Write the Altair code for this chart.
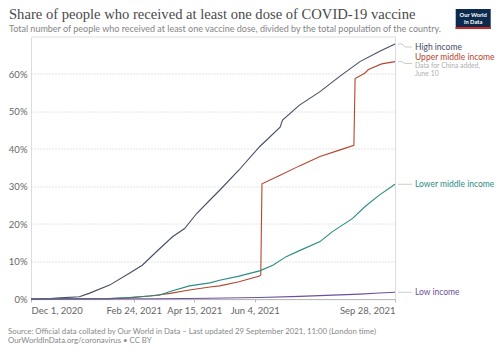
import altair as alt
import pandas as pd

# ---------------- data ----------------
high_dates = ["2020-12-01", "2020-12-17", "2020-12-25", "2021-01-10", "2021-01-18", "2021-02-04",
              "2021-02-20", "2021-03-03", "2021-03-16", "2021-03-28", "2021-04-07", "2021-04-17",
              "2021-04-28", "2021-05-06", "2021-05-22", "2021-06-08", "2021-06-25", "2021-06-27",
              "2021-07-11", "2021-07-28", "2021-08-13", "2021-08-30", "2021-09-15", "2021-09-28"]
high_vals = [0.0, 0.1, 0.3, 0.6, 1.5, 3.7, 6.8, 9.0, 13.0, 16.6, 18.8, 22.8,
             26.4, 29.0, 34.4, 40.6, 45.8, 47.7, 51.7, 55.3, 59.3, 63.3, 66.0, 68.0]

upper_dates = ["2020-12-01", "2021-01-18", "2021-02-04", "2021-02-20", "2021-03-09", "2021-03-26",
               "2021-04-11", "2021-04-28", "2021-05-06", "2021-05-22", "2021-06-08", "2021-06-09",
               "2021-06-10", "2021-06-25", "2021-07-11", "2021-07-28", "2021-08-13", "2021-08-25",
               "2021-08-26", "2021-09-03", "2021-09-06", "2021-09-17", "2021-09-28"]
upper_vals = [0.0, 0.05, 0.1, 0.3, 0.8, 1.5, 2.4, 3.2, 3.5, 4.6, 6.1, 6.4,
              30.7, 33.0, 35.5, 38.0, 39.7, 41.0, 58.8, 60.2, 61.2, 62.7, 63.3]

lower_dates = ["2020-12-01", "2021-02-04", "2021-02-20", "2021-03-17", "2021-03-26", "2021-04-11",
               "2021-04-28", "2021-05-06", "2021-05-22", "2021-06-08", "2021-06-19", "2021-06-30",
               "2021-07-11", "2021-07-28", "2021-08-07", "2021-08-24", "2021-09-03", "2021-09-15",
               "2021-09-28"]
lower_vals = [0.0, 0.1, 0.4, 1.0, 2.0, 3.5, 4.3, 5.0, 6.1, 7.5, 9.0, 11.3,
              12.9, 15.3, 17.9, 21.5, 24.6, 27.7, 30.6]

low_dates = ["2020-12-01", "2021-03-16", "2021-04-28", "2021-06-08", "2021-07-11", "2021-08-13",
             "2021-08-30", "2021-09-15", "2021-09-28"]
low_vals = [0.0, 0.05, 0.2, 0.4, 0.7, 1.1, 1.3, 1.6, 1.8]

series_names = ["High income", "Upper middle income", "Lower middle income", "Low income"]
series_colors = ["#474d66", "#b5462f", "#2a8c82", "#6b4e9c"]
label_pos = [67.3, 64.5, 30.7, 1.9]          # where each label sits (%)
connect_pos = [67.2, 62.8, 30.6, 1.8]         # where each connector meets its label (%)

tick_dates = ["2020-12-01", "2021-02-24", "2021-04-15", "2021-06-04", "2021-09-28"]
y_ticks = [0, 10, 20, 30, 40, 50, 60]

title_text = "Share of people who received at least one dose of COVID-19 vaccine"
subtitle_text = "Total number of people who received at least one vaccine dose, divided by the total population of the country."
footer1 = "Source: Official data collated by Our World in Data – Last updated 29 September 2021, 11:00 (London time)"
footer2 = "OurWorldInData.org/coronavirus • CC BY"
note_lines = ["Data for China added,", "June 10"]
note_pos = [62.2, 60.0]

# ---------------- tables ----------------
rows = []
for name, ds, vs in [(series_names[0], high_dates, high_vals),
                     (series_names[1], upper_dates, upper_vals),
                     (series_names[2], lower_dates, lower_vals),
                     (series_names[3], low_dates, low_vals)]:
    for d, v in zip(ds, vs):
        rows.append({"date": d, "value": v / 100.0, "series": name})
df = pd.DataFrame(rows)

ends = [high_vals[-1], upper_vals[-1], lower_vals[-1], low_vals[-1]]
lab = pd.DataFrame({
    "series": series_names,
    "end": [e / 100.0 for e in ends],
    "conn": [c / 100.0 for c in connect_pos],
    "lab": [p / 100.0 for p in label_pos],
})
notes = pd.DataFrame({"text": note_lines, "pos": [p / 100.0 for p in note_pos]})

W, H = 364, 262.5
FONT = "Lato"

color = alt.Color("series:N", scale=alt.Scale(domain=series_names, range=series_colors), legend=None)
x_scale = alt.Scale(type="utc", domain=[alt.DateTime(year=2020, month=12, date=1, utc=True),
                                        alt.DateTime(year=2021, month=9, date=28, utc=True)])
y_scale = alt.Scale(domain=[0, 0.7], nice=False)

tick_vals = []
for t in tick_dates:
    y, m, d = [int(s) for s in t.split("-")]
    tick_vals.append(alt.DateTime(year=y, month=m, date=d, utc=True))

lines = alt.Chart(df).mark_line(strokeWidth=1.1).encode(
    x=alt.X("date:T", scale=x_scale, title=None,
            axis=alt.Axis(values=tick_vals, labelExpr="utcFormat(datum.value, '%b %-d, %Y')", grid=False,
                          labelFlush=True, domainColor="#bbbbbb", tickColor="#bbbbbb", tickSize=3,
                          labelPadding=3, labelFont=FONT, labelFontSize=9.5, labelColor="#666666")),
    y=alt.Y("value:Q", scale=y_scale, title=None,
            axis=alt.Axis(values=[v / 100 for v in y_ticks], format=".0%", domain=False, ticks=False,
                          gridDash=[1, 2], gridColor="#cccccc", labelPadding=4, labelFont=FONT,
                          labelFontSize=9.5, labelColor="#666666")),
    color=color,
    detail="series:N",
)

seg1 = alt.Chart(lab).mark_rule(color="#cccccc", strokeWidth=1).encode(
    x=alt.value(367), x2=alt.value(371), y=alt.Y("end:Q", scale=y_scale))
seg2 = alt.Chart(lab).mark_rule(color="#cccccc", strokeWidth=1).encode(
    x=alt.value(371), x2=alt.value(374), y=alt.Y("end:Q", scale=y_scale), y2="conn:Q")
seg3 = alt.Chart(lab).mark_rule(color="#cccccc", strokeWidth=1).encode(
    x=alt.value(374), x2=alt.value(381), y=alt.Y("conn:Q", scale=y_scale))

labels = alt.Chart(lab).mark_text(align="left", baseline="middle", font=FONT, fontSize=8.5).encode(
    x=alt.value(384), y=alt.Y("lab:Q", scale=y_scale), text="series:N", color=color)

note = alt.Chart(notes).mark_text(align="left", baseline="middle", font=FONT, fontSize=6.8,
                                  color="#b0b0b0").encode(
    x=alt.value(384), y=alt.Y("pos:Q", scale=y_scale), text="text:N")

def txt(s, x, y, size, color, font=FONT, weight="normal", align="left"):
    return alt.Chart(pd.DataFrame({"t": [s]})).mark_text(
        align=align, baseline="middle", font=font, fontSize=size, color=color, fontWeight=weight
    ).encode(x=alt.value(x), y=alt.value(y), text="t:N")

title = txt(title_text, -22, -21.5, 14.6, "#4a4a4a", font="Liberation Serif")
subtitle = txt(subtitle_text, -22, -7.5, 9, "#858585")
foot1 = txt(footer1, -23, 295.2, 7.8, "#888888")
foot2 = txt(footer2, -23, 304.2, 7.8, "#888888")

logo_bg = alt.Chart(pd.DataFrame({"a": [0]})).mark_rect(color="#0c2a4d").encode(
    x=alt.value(424.7), x2=alt.value(459.7), y=alt.value(-27.5), y2=alt.value(-7.5))
logo_bar = alt.Chart(pd.DataFrame({"a": [0]})).mark_rect(color="#ce261e").encode(
    x=alt.value(424.7), x2=alt.value(459.7), y=alt.value(-9.5), y2=alt.value(-7.5))
logo1 = txt("Our World", 442.2, -21.8, 5.8, "white", weight="bold", align="center")
logo2 = txt("in Data", 442.2, -14.8, 5.8, "white", weight="bold", align="center")

chart = alt.layer(
    lines, seg1, seg2, seg3, labels, note, title, subtitle, foot1, foot2,
    logo_bg, logo_bar, logo1, logo2
).properties(
    width=W, height=H,
    autosize=alt.AutoSizeParams(type="none"),
    padding={"left": 31, "top": 36.5, "right": 105, "bottom": 54},
).configure_view(stroke=None).configure(background="white")

chart.save("out.html", embed_options={"renderer": "svg", "actions": False})
